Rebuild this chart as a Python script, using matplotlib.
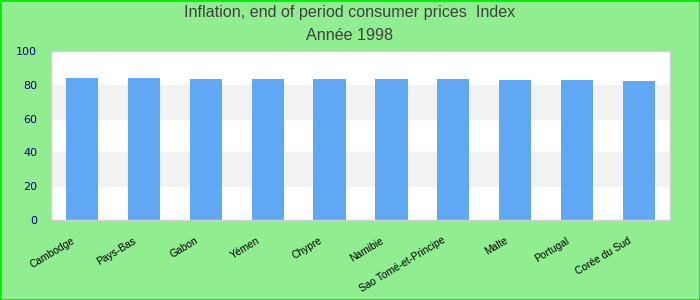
import matplotlib
matplotlib.use("Agg")
import matplotlib.pyplot as plt
import matplotlib.transforms as mtransforms
import numpy as np

categories = ["Cambodge", "Pays-Bas", "Gabon", "Yémen", "Chypre", "Namibie",
              "Sao Tomé-et-Principe", "Malte", "Portugal", "Corée du Sud"]
values = [84.1, 84.0, 83.5, 83.4, 83.4, 83.3, 83.3, 82.9, 82.8, 82.2]
yticks = [0, 20, 40, 60, 80, 100]
title_lines = ["Inflation, end of period consumer prices  Index", "Année 1998"]

fig = plt.figure(figsize=(7, 3), dpi=100, facecolor="#90EE90")
ax = fig.add_axes([51/700, 1 - 220/300, 619/700, 169/300])
ax.set_facecolor("white")

x = np.arange(len(categories))
for i in range(0, 100, 20):
    if (i // 20) % 2 == 1:
        ax.axhspan(i, i + 20, color="#f2f2f2", zorder=0)
ax.bar(x, values, width=0.52, color="#60a8f4", zorder=2)

ax.set_xlim(-0.5, len(categories) - 0.5)
ax.set_ylim(0, 100)
ax.set_yticks(yticks)
ax.tick_params(axis="y", length=0, labelsize=8, labelcolor="#000080", pad=10)
ax.tick_params(axis="x", length=0, pad=11)
ax.set_xticks(x)
ax.set_xticklabels(categories, rotation=31, ha="right", rotation_mode="anchor",
                   fontsize=7.4, family="Liberation Sans")
offset = mtransforms.ScaledTranslation(-11/100, 0, fig.dpi_scale_trans)
for lbl in ax.get_xticklabels():
    lbl.set_transform(lbl.get_transform() + offset)
for s in ax.spines.values():
    s.set_color("#d0d0d0")
    s.set_linewidth(1)

fig.text(0.5, 1 - 13/300, title_lines[0], ha="center", va="center", fontsize=11.6,
         color="#404040", family="Liberation Sans")
fig.text(0.5, 1 - 36/300, title_lines[1], ha="center", va="center", fontsize=11.6,
         color="#404040", family="Liberation Sans")

border = plt.Rectangle((0, 0), 1, 1, transform=fig.transFigure, fill=False,
                       edgecolor="#00ee00", linewidth=2)
fig.patches.append(border)

fig.savefig("out.png", dpi=100, facecolor=fig.get_facecolor())
